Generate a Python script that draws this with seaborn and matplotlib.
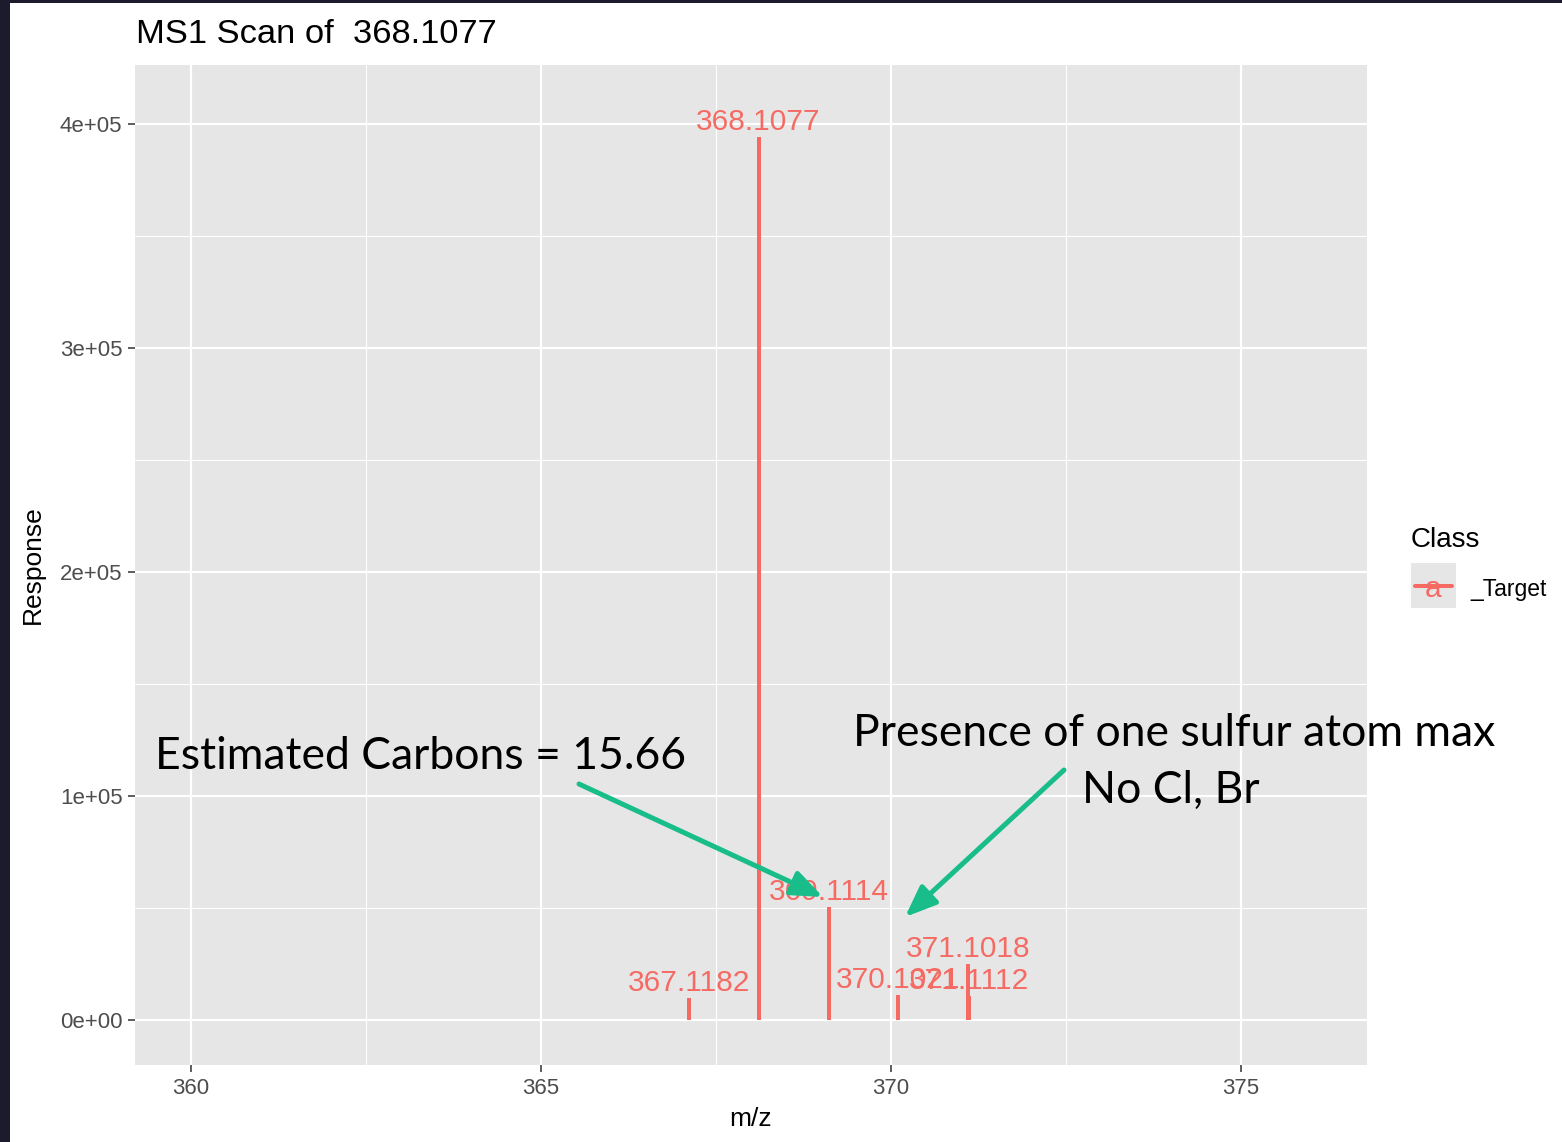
import matplotlib
matplotlib.use("Agg")
import matplotlib.pyplot as plt
import seaborn as sns
import pandas as pd
from matplotlib.patches import Rectangle
from matplotlib.lines import Line2D
from matplotlib.ticker import MultipleLocator, FixedLocator

# ---- data ----
mz = [367.1182, 368.1077, 369.1114, 370.1021, 371.1018, 371.1112]
response = [9800, 394200, 50600, 11100, 24900, 10900]
peak_labels = ["367.1182", "368.1077", "369.1114", "370.1021", "371.1018", "371.1112"]
peak_class = ["_Target"] * 6

title = "MS1 Scan of  368.1077"
x_label = "m/z"
y_label = "Response"
legend_title = "Class"
legend_label = "_Target"
xticks = [360, 365, 370, 375]
yticks = [0, 100000, 200000, 300000, 400000]
ytick_labels = ["0e+00", "1e+05", "2e+05", "3e+05", "4e+05"]
note_carbons = "Estimated Carbons = 15.66"
note_sulfur = "Presence of one sulfur atom max"
note_halogen = "No Cl, Br"

df = pd.DataFrame({"mz": mz, "response": response, "label": peak_labels, "Class": peak_class})

RED = "#F56B64"
GREEN = "#19BD89"
PANEL = "#E6E6E6"

sns.set_theme(style="darkgrid", rc={
    "axes.facecolor": PANEL,
    "figure.facecolor": "white",
    "grid.color": "white",
})
plt.rcParams["font.family"] = ["Liberation Sans", "DejaVu Sans"]

W, H = 1562, 1142
fig = plt.figure(figsize=(W / 100, H / 100), dpi=100)
ax = fig.add_axes([135 / W, 1 - 1065 / H, (1367 - 135) / W, (1065 - 65) / H])

# peaks drawn as thin bars on a native numeric scale
min_gap = pd.Series(sorted(set(mz))).diff().min()
bar_units = 4 / 70.0
sns.barplot(data=df, x="mz", y="response", native_scale=True,
            width=bar_units / min_gap, color=RED, saturation=1,
            errorbar=None, linewidth=0, ax=ax)

for xv, yv, lab in zip(df["mz"], df["response"], df["label"]):
    ax.annotate(lab, (xv, yv), xytext=(0, 7), textcoords="offset pixels",
                ha="center", va="baseline", fontsize=21.5, color=RED,
                annotation_clip=False)

ax.set_xlim(359.2, 376.8)
ax.set_ylim(-20089, 426339)
ax.xaxis.set_major_locator(FixedLocator(xticks))
ax.set_xticklabels([str(t) for t in xticks])
ax.yaxis.set_major_locator(FixedLocator(yticks))
ax.set_yticklabels(ytick_labels)
ax.xaxis.set_minor_locator(MultipleLocator(2.5))
ax.yaxis.set_minor_locator(MultipleLocator(50000))
ax.grid(which="major", color="white", lw=1.6)
ax.grid(which="minor", color="white", lw=0.8)
ax.set_axisbelow(True)
for s in ax.spines.values():
    s.set_visible(False)
ax.tick_params(which="major", length=5, width=1.1, color="#333333",
               labelcolor="#4D4D4D", labelsize=16, pad=4,
               bottom=True, left=True)
ax.tick_params(which="minor", length=0)

ax.set_xlabel(x_label, fontsize=19, color="black")
ax.set_ylabel(y_label, fontsize=19, color="black")
ax.xaxis.set_label_coords(0.5, (1065 - 1119) / 1000)
ax.xaxis.label.set_va("center")
ax.yaxis.set_label_coords((33 - 135) / 1232, 0.5)
ax.yaxis.label.set_va("center")
ax.yaxis.label.set_ha("center")

# title
fig.text(136 / W, 1 - 43 / H, title, ha="left", va="baseline", fontsize=24.8, color="black")

# legend (ggplot style)
fig.text(1411 / W, 1 - 547 / H, legend_title, ha="left", va="baseline", fontsize=20, color="black")
fig.patches.append(Rectangle((1411 / W, 1 - 608 / H), 45 / W, 45 / H,
                             transform=fig.transFigure, facecolor=PANEL, edgecolor="none"))
fig.lines.append(Line2D([1415 / W, 1452 / W], [1 - 586 / H, 1 - 586 / H],
                        transform=fig.transFigure, color=RED, lw=2.9))
fig.text(1433 / W, 1 - 597 / H, "a", ha="center", va="baseline", fontsize=21.5, color=RED)
fig.text(1470 / W, 1 - 596 / H, legend_label, ha="left", va="baseline", fontsize=16.5, color="black")

# annotations
fig.text(155 / W, 1 - 769 / H, note_carbons, ha="left", va="baseline",
         fontsize=32, color="black", family=["Lato", "DejaVu Sans"])
fig.text(853 / W, 1 - 746 / H, note_sulfur, ha="left", va="baseline",
         fontsize=32, color="black", family=["Lato", "DejaVu Sans"])
fig.text(1082 / W, 1 - 803 / H, note_halogen, ha="left", va="baseline",
         fontsize=32, color="black", family=["Lato", "DejaVu Sans"])

arrow_kw = dict(arrowstyle="-|>,head_length=0.95,head_width=0.38", color=GREEN,
                lw=3.6, mutation_scale=20, shrinkA=0, shrinkB=0)
ax.annotate("", xy=(823, H - 897), xycoords="figure pixels",
            xytext=(579, H - 784), textcoords="figure pixels",
            arrowprops=arrow_kw, annotation_clip=False)
ax.annotate("", xy=(905, H - 917), xycoords="figure pixels",
            xytext=(1064, H - 770), textcoords="figure pixels",
            arrowprops=arrow_kw, annotation_clip=False)

# dark screenshot border
DARK = "#1C1B2E"
fig.patches.append(Rectangle((0, 0), 10 / W, 1, transform=fig.transFigure,
                             facecolor=DARK, edgecolor="none"))
fig.patches.append(Rectangle((0, 1 - 3 / H), 1, 3 / H, transform=fig.transFigure,
                             facecolor=DARK, edgecolor="none"))

fig.savefig("out.png", dpi=100)
